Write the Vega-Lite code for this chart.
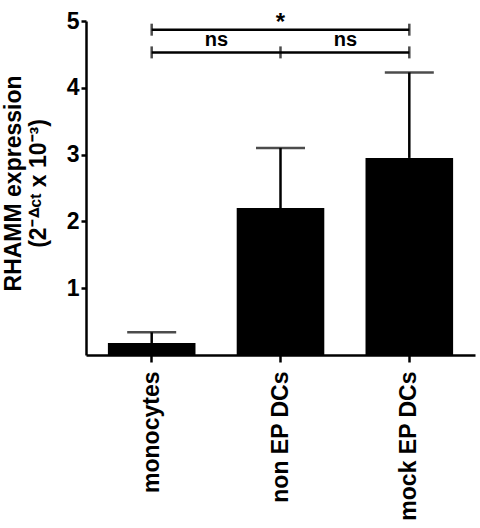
{
  "$schema": "https://vega.github.io/schema/vega-lite/v6.json",
  "width": 389,
  "height": 334,
  "autosize": "none",
  "padding": {"left": 86, "top": 21, "right": 5, "bottom": 173},
  "background": "white",
  "config": {
    "view": {"stroke": null},
    "font": "Liberation Sans",
    "axis": {
      "domainColor": "black",
      "tickColor": "black",
      "labelColor": "black",
      "titleColor": "black",
      "grid": false,
      "labelFont": "Liberation Sans",
      "titleFont": "Liberation Sans",
      "labelFontWeight": "bold",
      "titleFontWeight": "bold",
      "domainWidth": 2.5,
      "tickWidth": 2.5
    }
  },
  "datasets": {
    "bars": [
      {"group": "monocytes", "mean": 0.18, "upper": 0.34},
      {"group": "non EP DCs", "mean": 2.2, "upper": 3.1},
      {"group": "mock EP DCs", "mean": 2.95, "upper": 4.23}
    ],
    "brackets": [
      {"from": "monocytes", "to": "mock EP DCs", "level": 4.87},
      {"from": "monocytes", "to": "mock EP DCs", "level": 4.53}
    ],
    "ends": [
      {"group": "monocytes", "level": 4.87},
      {"group": "mock EP DCs", "level": 4.87},
      {"group": "monocytes", "level": 4.53},
      {"group": "non EP DCs", "level": 4.53},
      {"group": "mock EP DCs", "level": 4.53}
    ],
    "stars": [
      {"group": "non EP DCs", "level": 5.03, "label": "*"}
    ],
    "ns": [
      {"group": "non EP DCs", "level": 4.72, "label": "ns"}
    ]
  },
  "layer": [
    {
      "data": {"name": "bars"},
      "mark": {"type": "bar", "color": "black"},
      "encoding": {
        "x": {
          "field": "group",
          "type": "nominal",
          "sort": null,
          "scale": {"domain": ["monocytes", "non EP DCs", "mock EP DCs"], "paddingInner": 0.32, "paddingOuter": 0.17},
          "axis": {
            "title": null,
            "labelAngle": -90,
            "labelFontSize": 23,
            "tickSize": 7,
            "labelPadding": 9
          }
        },
        "y": {
          "field": "mean",
          "type": "quantitative",
          "scale": {"domain": [0, 5], "nice": false},
          "axis": {
            "values": [1, 2, 3, 4, 5],
            "format": "d",
            "labelFontSize": 23,
            "tickSize": 5,
            "labelPadding": 2,
            "title": ["RHAMM expression", "(2⁻ᐞᶜᵗ x 10⁻³)"],
            "titleFontSize": 23,
            "titleLineHeight": 25,
            "titleAngle": -90,
            "titleBaseline": "top",
            "titleAlign": "center",
            "titleX": -84,
            "titleY": 162
          }
        }
      }
    },
    {
      "data": {"name": "bars"},
      "mark": {"type": "rule", "color": "black", "strokeWidth": 2.5},
      "encoding": {
        "x": {"field": "group", "type": "nominal"},
        "y": {"field": "mean", "type": "quantitative"},
        "y2": {"field": "upper"}
      }
    },
    {
      "data": {"name": "bars"},
      "mark": {"type": "tick", "color": "black", "size": 49, "thickness": 2.5, "orient": "horizontal"},
      "encoding": {
        "x": {"field": "group", "type": "nominal"},
        "y": {"field": "upper", "type": "quantitative"}
      }
    },
    {
      "data": {"name": "brackets"},
      "mark": {"type": "rule", "color": "black", "strokeWidth": 2.5},
      "encoding": {
        "x": {"field": "from", "type": "nominal"},
        "x2": {"field": "to"},
        "y": {"field": "level", "type": "quantitative"}
      }
    },
    {
      "data": {"name": "ends"},
      "mark": {"type": "tick", "color": "black", "size": 12, "thickness": 2.5, "orient": "vertical"},
      "encoding": {
        "x": {"field": "group", "type": "nominal"},
        "y": {"field": "level", "type": "quantitative"}
      }
    },
    {
      "data": {"name": "stars"},
      "mark": {"type": "text", "color": "black", "fontSize": 24, "fontWeight": "bold", "baseline": "middle", "dy": 4},
      "encoding": {
        "x": {"field": "group", "type": "nominal"},
        "y": {"field": "level", "type": "quantitative"},
        "text": {"field": "label"}
      }
    },
    {
      "data": {"name": "ns"},
      "mark": {"type": "text", "color": "black", "fontSize": 20, "fontWeight": "bold", "baseline": "middle", "dx": -64},
      "encoding": {
        "x": {"field": "group", "type": "nominal"},
        "y": {"field": "level", "type": "quantitative"},
        "text": {"field": "label"}
      }
    },
    {
      "data": {"name": "ns"},
      "mark": {"type": "text", "color": "black", "fontSize": 20, "fontWeight": "bold", "baseline": "middle", "dx": 65},
      "encoding": {
        "x": {"field": "group", "type": "nominal"},
        "y": {"field": "level", "type": "quantitative"},
        "text": {"field": "label"}
      }
    }
  ]
}
